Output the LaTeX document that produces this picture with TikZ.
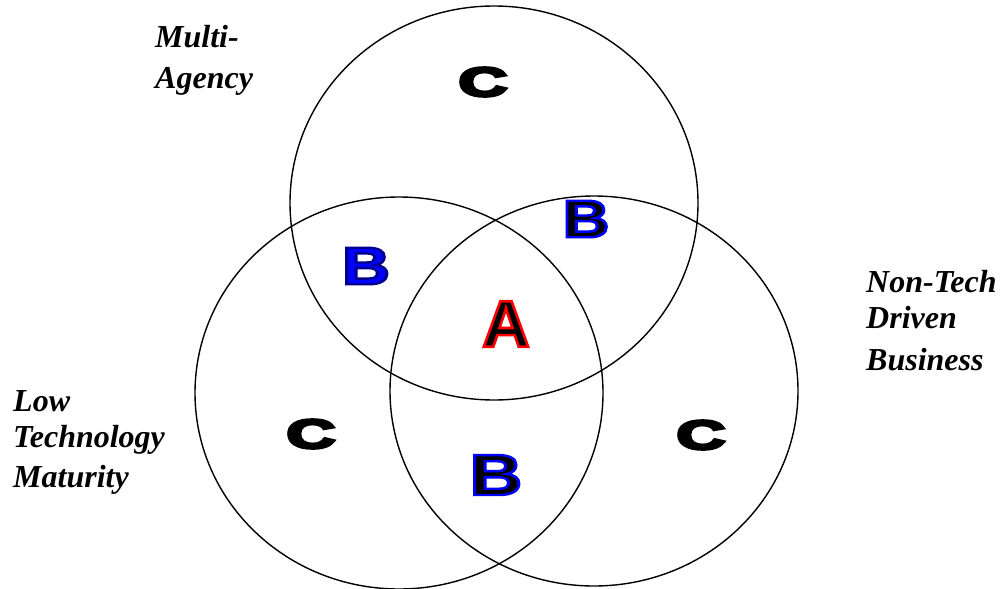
\documentclass[tikz,border=0pt]{standalone}
\usepackage{fontspec}
\setmainfont{Liberation Serif}
\newfontfamily\letterfont{Liberation Sans}
\usepackage{graphicx}
% outlined text: #1 fill colour, #2 stroke rgb, #3 stroke width, #4 text
\newcommand\strokedtext[4]{{\color{#1}\special{pdf:literal direct #2 RG #3 w 2 Tr}#4\special{pdf:literal direct 0 Tr}}}
\begin{document}
\begin{tikzpicture}[x=1pt,y=-1pt,
  ring/.style={draw=black, line width=1.4pt},
  lbl/.style={font=\fontsize{32}{36}\selectfont\bfseries\itshape, align=left, anchor=north west, inner sep=0pt},
  big/.style={inner sep=0pt, anchor=center, font=\letterfont\bfseries}
]
\useasboundingbox (0,0) rectangle (1007,589);
% circles
\draw[ring] (494,203) ellipse [x radius=204, y radius=197];
\draw[ring] (399,393) ellipse [x radius=204, y radius=196];
\draw[ring] (594,391) ellipse [x radius=204, y radius=195];
% labels
\node[lbl] (multi) at (155,25) {Multi-\\[5pt]Agency};
\node[lbl] (nontech) at (866,270) {Non-Tech\\Driven\\[6pt]Business};
\node[lbl] (low) at (13,390) {Low\\Technology\\[4pt]Maturity};
% region letters
\node[big, font=\letterfont\bfseries\fontsize{41}{41}\selectfont] (ctop) at (483,82) {\scalebox{1.65}[1]{\strokedtext{black}{0 0 0}{2.6}{C}}};
\node[big, font=\letterfont\bfseries\fontsize{41}{41}\selectfont] (cleft) at (311,434) {\scalebox{1.65}[1]{\strokedtext{black}{0 0 0}{2.6}{C}}};
\node[big, font=\letterfont\bfseries\fontsize{41}{41}\selectfont] (cright) at (701,435) {\scalebox{1.65}[1]{\strokedtext{black}{0 0 0}{2.6}{C}}};
\node[big, font=\letterfont\bfseries\fontsize{53}{53}\selectfont] (bleft) at (366,266) {\scalebox{1.25}[1]{\strokedtext{blue}{0 0 0.55}{2.4}{B}}};
\node[big, font=\letterfont\bfseries\fontsize{53}{53}\selectfont] (bright) at (586,219) {\scalebox{1.22}[1]{\strokedtext{black}{0 0 1}{2.4}{B}}};
\node[big, font=\letterfont\bfseries\fontsize{58}{58}\selectfont] (bbottom) at (496,475) {\scalebox{1.25}[1]{\strokedtext{black}{0 0 1}{2.4}{B}}};
\node[big, font=\letterfont\bfseries\fontsize{66}{66}\selectfont] (a) at (506,324) {\strokedtext{black}{1 0 0}{2.6}{A}};
\end{tikzpicture}
\end{document}
